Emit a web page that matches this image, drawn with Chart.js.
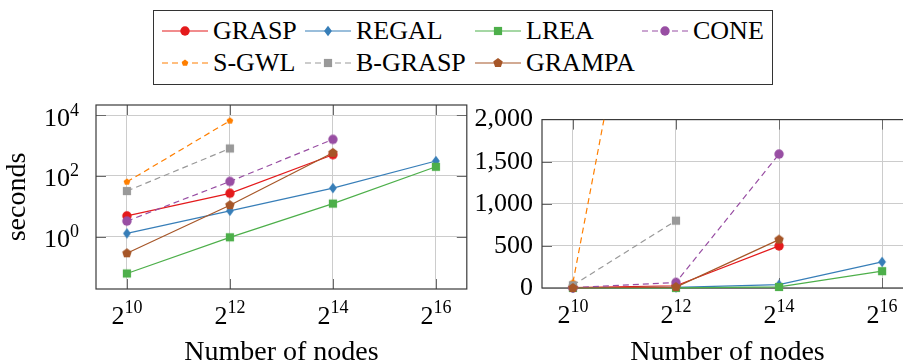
<!DOCTYPE html>
<html lang="en">
<head>
<meta charset="UTF-8">
<title>Running time vs number of nodes</title>
<script src="https://cdn.jsdelivr.net/npm/chart.js"></script>
<style>
  html, body { margin: 0; padding: 0; background: #fff; }
  body { width: 903px; height: 364px; overflow: hidden; position: relative; font-family: 'Liberation Serif', 'Times New Roman', serif; }
  canvas.plot { position: absolute; top: 95px; }
  #legendBox { position: absolute; left: 153px; top: 10px; width: 620px; height: 75px; box-sizing: border-box; border: 1px solid #333; }
  .entry { position: absolute; height: 26px; line-height: 26px; font-size: 26px; white-space: nowrap; color: #000; }
</style>
</head>
<body>
<div id="legendBox"></div>
<canvas id="logChart" class="plot" width="472" height="275" style="left:0"></canvas>
<canvas id="linChart" class="plot" width="460" height="275" style="left:460px"></canvas>

<script>
// number of nodes (x) and runtime in seconds for each method
const nodes = [1024, 4096, 16384, 65536];
const seriesNames = ['GRASP', 'REGAL', 'LREA', 'CONE', 'S-GWL', 'B-GRASP', 'GRAMPA'];
const grasp  = [4.9, 27, 500, null];
const regal  = [1.3, 7.2, 40, 310];
const lrea   = [0.063, 0.97, 12.4, 200];
const cone   = [3.3, 66, 1590, null];
const sgwl   = [64, 6500, null, null];
const bgrasp = [32, 800, null, null];
const grampa = [0.29, 11, 575, null];
const seriesValues = [grasp, regal, lrea, cone, sgwl, bgrasp, grampa];

// tick positions
const logTicks = [1, 100, 10000];
const linTicks = [0, 500, 1000, 1500, 2000];

const SERIF = "'Liberation Serif', 'Times New Roman', serif";
const GRID = '#cccccc';
const FRAME = '#3a3a3a';
const TICK = '#6a6a6a';

const styles = [
  { color: '#e41a1c', mark: 'circle',    dash: [] },
  { color: '#377eb8', mark: 'diamond',   dash: [] },
  { color: '#4daf4a', mark: 'square',    dash: [] },
  { color: '#984ea3', mark: 'circle',    dash: [6, 4] },
  { color: '#ff7f00', mark: 'smallpent', dash: [6, 4] },
  { color: '#999999', mark: 'square',    dash: [6, 4] },
  { color: '#a65628', mark: 'pentagon',  dash: [] }
];

function polygon(g, x, y, r, n) {
  for (let k = 0; k < n; k++) {
    const a = -Math.PI / 2 + k * 2 * Math.PI / n;
    const px = x + r * Math.cos(a), py = y + r * Math.sin(a);
    if (k === 0) g.moveTo(px, py); else g.lineTo(px, py);
  }
  g.closePath();
}

function drawMarker(g, mark, x, y, color) {
  g.save();
  g.setLineDash([]);
  g.fillStyle = color;
  g.beginPath();
  if (mark === 'circle') {
    g.arc(x, y, 4.7, 0, Math.PI * 2);
  } else if (mark === 'diamond') {
    g.moveTo(x, y - 5.3); g.lineTo(x + 3.9, y); g.lineTo(x, y + 5.3); g.lineTo(x - 3.9, y); g.closePath();
  } else if (mark === 'square') {
    g.rect(x - 4.1, y - 4.1, 8.2, 8.2);
  } else if (mark === 'pentagon') {
    polygon(g, x, y, 5, 5);
  } else if (mark === 'smallpent') {
    polygon(g, x, y, 3.5, 5);
  }
  g.fill();
  g.restore();
}

function markerImage(st) {
  const c = document.createElement('canvas');
  c.width = 14; c.height = 14;
  drawMarker(c.getContext('2d'), st.mark, 7, 7, st.color);
  return c;
}

function makeDatasets(clip) {
  return seriesValues.map((vals, i) => ({
    label: seriesNames[i],
    data: nodes.map((n, k) => ({ x: n, y: vals[k] })).filter(p => p.y !== null),
    borderColor: styles[i].color,
    backgroundColor: styles[i].color,
    borderWidth: 1.2,
    borderDash: styles[i].dash,
    pointStyle: markerImage(styles[i]),
    pointRadius: 4,
    pointHoverRadius: 4,
    tension: 0,
    clip: clip,
    order: seriesValues.length - 1 - i
  }));
}

// box around the plot area plus short inward tick marks
const framePlugin = {
  id: 'frame',
  beforeDatasetsDraw(chart) {
    const { ctx, chartArea: a, scales } = chart;
    ctx.save();
    ctx.strokeStyle = TICK;
    ctx.lineWidth = 1;
    ctx.beginPath();
    scales.x.ticks.forEach(t => {
      const px = Math.round(scales.x.getPixelForValue(t.value)) + 0.5;
      ctx.moveTo(px, a.top); ctx.lineTo(px, a.top + 10);
      ctx.moveTo(px, a.bottom); ctx.lineTo(px, a.bottom - 10);
    });
    scales.y.ticks.forEach(t => {
      const py = Math.round(scales.y.getPixelForValue(t.value)) + 0.5;
      if (py <= a.top + 2 || py >= a.bottom - 2) return;
      ctx.moveTo(a.left, py); ctx.lineTo(a.left + 10, py);
      ctx.moveTo(a.right, py); ctx.lineTo(a.right - 10, py);
    });
    ctx.stroke();
    ctx.strokeStyle = FRAME;
    ctx.lineWidth = 1.2;
    ctx.strokeRect(a.left, a.top, a.right - a.left, a.bottom - a.top);
    ctx.restore();
  }
};

// tick labels written as base with a raised exponent
const powerTicks = {
  id: 'powerTicks',
  afterDraw(chart, args, opts) {
    const { ctx, chartArea: a, scales } = chart;
    const big = '26px ' + SERIF, small = '18px ' + SERIF;
    ctx.save();
    ctx.fillStyle = '#000';
    ctx.textBaseline = 'alphabetic';
    ctx.textAlign = 'left';
    const label = (base, v) => String(Math.round(Math.log(v) / Math.log(base)));
    if (opts.xBase) {
      const y0 = a.bottom + 34.5;
      scales.x.ticks.forEach(t => {
        const b = String(opts.xBase), e = label(opts.xBase, t.value);
        ctx.font = big; const wb = ctx.measureText(b).width;
        ctx.font = small; const we = ctx.measureText(e).width;
        const px = scales.x.getPixelForValue(t.value);
        const x0 = px - (wb + we) / 2;
        ctx.font = big; ctx.fillText(b, x0, y0);
        ctx.font = small; ctx.fillText(e, x0 + wb, y0 - 11);
      });
    }
    if (opts.yBase) {
      const xr = a.left - 17;
      scales.y.ticks.forEach(t => {
        const b = String(opts.yBase), e = label(opts.yBase, t.value);
        ctx.font = big; const wb = ctx.measureText(b).width;
        ctx.font = small; const we = ctx.measureText(e).width;
        const py = scales.y.getPixelForValue(t.value) + 10.5;
        const x0 = xr - wb - we;
        ctx.font = big; ctx.fillText(b, x0, py);
        ctx.font = small; ctx.fillText(e, x0 + wb, py - 10);
      });
    }
    ctx.restore();
  }
};

function xScale(height) {
  return {
    type: 'logarithmic',
    min: Math.pow(2, 9.4),
    max: Math.pow(2, 16.6),
    afterBuildTicks: s => { s.ticks = nodes.map(v => ({ value: v })); },
    afterFit: s => { s.height = height; },
    ticks: { display: false },
    grid: { color: GRID, lineWidth: 1, drawTicks: false },
    border: { display: false },
    title: {
      display: true, text: 'Number of nodes', color: '#000',
      font: { family: SERIF, size: 28, lineHeight: 1 },
      padding: { top: 0, bottom: 3.5 }
    }
  };
}

const baseOptions = {
  responsive: false,
  animation: false,
  events: [],
  plugins: { legend: { display: false }, tooltip: { enabled: false } }
};

new Chart(document.getElementById('logChart'), {
  type: 'line',
  data: { datasets: makeDatasets(false) },
  plugins: [framePlugin, powerTicks],
  options: {
    ...baseOptions,
    layout: { padding: { top: 10, right: 5, left: 0, bottom: 0 } },
    plugins: { ...baseOptions.plugins, powerTicks: { xBase: 2, yBase: 10 } },
    scales: {
      x: xScale(81),
      y: {
        type: 'logarithmic',
        min: Math.pow(10, -1.71),
        max: Math.pow(10, 4.33),
        afterBuildTicks: s => { s.ticks = logTicks.map(v => ({ value: v })); },
        afterFit: s => { s.width = 96; },
        ticks: { display: false },
        grid: { color: GRID, lineWidth: 1, drawTicks: false },
        border: { display: false },
        title: {
          display: true, text: 'seconds', color: '#000',
          font: { family: SERIF, size: 28, lineHeight: 1 },
          padding: { top: 4, bottom: 0 }
        }
      }
    }
  }
});

new Chart(document.getElementById('linChart'), {
  type: 'line',
  data: { datasets: makeDatasets({ left: 10, top: 0, right: 10, bottom: 10 }) },
  plugins: [framePlugin, powerTicks],
  options: {
    ...baseOptions,
    layout: { padding: { top: 10, right: 7, left: 0, bottom: 0 } },
    plugins: { ...baseOptions.plugins, powerTicks: { xBase: 2 } },
    scales: {
      x: xScale(82),
      y: {
        type: 'linear',
        min: 0,
        max: 2000,
        afterBuildTicks: s => { s.ticks = linTicks.map(v => ({ value: v })); },
        afterFit: s => { s.width = 82; },
        ticks: { color: '#000', font: { family: SERIF, size: 26 }, padding: 9 },
        grid: { color: GRID, lineWidth: 1, drawTicks: false },
        border: { display: false }
      }
    }
  }
});

// shared legend, two rows of four columns
const legendCols = [162, 305, 475, 642];
const legendRows = [31, 63];
seriesNames.forEach((name, i) => {
  const cx = legendCols[i % 4], cy = legendRows[Math.floor(i / 4)];
  const c = document.createElement('canvas');
  c.width = 46; c.height = 20;
  c.style.cssText = 'position:absolute;left:' + cx + 'px;top:' + (cy - 10) + 'px';
  const g = c.getContext('2d');
  g.strokeStyle = styles[i].color;
  g.lineWidth = 1.2;
  g.setLineDash(styles[i].dash);
  g.beginPath(); g.moveTo(0, 10); g.lineTo(46, 10); g.stroke();
  drawMarker(g, styles[i].mark, 23, 10, styles[i].color);
  document.body.appendChild(c);
  const s = document.createElement('span');
  s.className = 'entry';
  s.textContent = name;
  s.style.left = (cx + 51) + 'px';
  s.style.top = (cy - 13) + 'px';
  document.body.appendChild(s);
});
</script>
</body>
</html>
